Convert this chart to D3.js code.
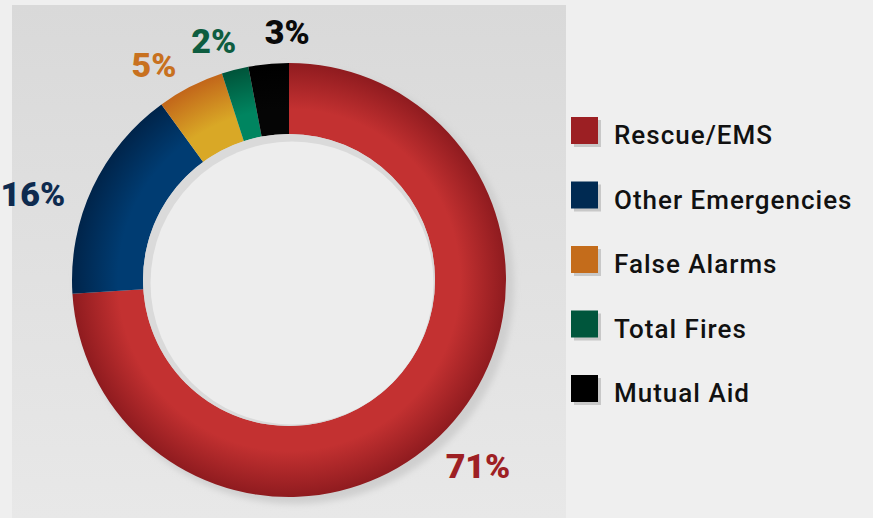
<html>
<script src="https://cdn.jsdelivr.net/npm/d3@7"></script>
<style>
  body { margin: 0; background: #efefef; }
  svg { display: block; }
</style>
<body>
<script>
    var width = 873
    var height = 518

    var categories = ['Rescue/EMS', 'Other Emergencies', 'False Alarms', 'Total Fires', 'Mutual Aid']
    var values = [74, 16, 5, 2, 3]
    var percentLabels = ['71%', '16%', '5%', '2%', '3%']

    // styling
    var swatchColors = ['#9c1f23', '#002a52', '#c46c1b', '#00563c', '#000000']
    var outerColors = ['#8f1b1f', '#00244a', '#c2661a', '#00543a', '#000000']
    var innerColors = ['#c33131', '#003c72', '#d9a826', '#008560', '#050505']
    var labelColors = ['#9e2024', '#0e2b4f', '#c8711f', '#0e5d40', '#0a0a0a']
    var labelNudge = [[-2, 6], [-19, 25], [-16, 18], [-10, 15], [23, 13]]

    var cx = 289, cy = 280
    var outerR = 217, innerR = 146

    var svg = d3.select('body').append('svg').attr('width', width).attr('height', height)
    var defs = svg.append('defs')

    var bgGrad = defs.append('linearGradient').attr('id', 'panel').attr('x1', 0).attr('y1', 0).attr('x2', 0).attr('y2', 1)
    bgGrad.append('stop').attr('offset', '0%').attr('stop-color', '#d9d9d9')
    bgGrad.append('stop').attr('offset', '100%').attr('stop-color', '#e8e8e8')

    defs.append('filter').attr('id', 'blur').append('feGaussianBlur').attr('stdDeviation', 3)

    svg.append('rect').attr('width', width).attr('height', height).attr('fill', '#efefef')
    svg.append('rect').attr('x', 12).attr('y', 5).attr('width', 554).attr('height', height - 5).attr('fill', 'url(#panel)')

    var g = svg.append('g').attr('transform', `translate(${cx}, ${cy})`)

    // drop shadow behind ring
    g.append('circle').attr('cx', 6).attr('cy', 5).attr('r', outerR + 2)
        .attr('fill', '#cfcfcf').attr('filter', 'url(#blur)')

    categories.forEach(function(c, i) {
        var rg = defs.append('radialGradient').attr('id', 'grad' + i)
            .attr('gradientUnits', 'userSpaceOnUse').attr('cx', 0).attr('cy', 0).attr('r', outerR)
        rg.append('stop').attr('offset', innerR / outerR).attr('stop-color', innerColors[i])
        rg.append('stop').attr('offset', (innerR + 25) / outerR).attr('stop-color', innerColors[i])
        rg.append('stop').attr('offset', '100%').attr('stop-color', outerColors[i])
    })

    var pie = d3.pie().sort(null).value(function(d) { return d })
    var arcs = pie(values)
    var arc = d3.arc().innerRadius(innerR).outerRadius(outerR)

    g.selectAll('path.slice').data(arcs).enter().append('path')
        .attr('class', 'slice')
        .attr('d', arc)
        .attr('fill', function(d, i) { return 'url(#grad' + i + ')' })

    // hole with inner shadow
    g.append('circle').attr('r', innerR).attr('fill', '#dadada')
    g.append('circle').attr('cx', 3).attr('cy', 3).attr('r', innerR - 4.5).attr('fill', '#ededed')

    var labelArc = d3.arc().innerRadius(262).outerRadius(262)
    g.selectAll('text.pct').data(arcs).enter().append('text')
        .attr('class', 'pct')
        .attr('transform', function(d, i) {
            var p = labelArc.centroid(d)
            return `translate(${p[0] + labelNudge[i][0]}, ${p[1] + labelNudge[i][1]})`
        })
        .attr('text-anchor', 'middle')
        .attr('dy', '0.36em')
        .style('font-family', 'Roboto, sans-serif')
        .style('font-weight', 900)
        .style('font-size', '34px')
        .attr('fill', function(d, i) { return labelColors[i] })
        .text(function(d, i) { return percentLabels[i] })

    // legend
    var legendY = d3.scalePoint().domain(categories).range([117, 375])
    var legend = svg.append('g')
    var item = legend.selectAll('g').data(categories).enter().append('g')
        .attr('transform', function(d) { return `translate(571, ${legendY(d)})` })
    item.append('rect').attr('x', 3).attr('y', 3).attr('width', 27).attr('height', 27).attr('fill', '#c8c8c8')
    item.append('rect').attr('width', 27).attr('height', 27)
        .attr('fill', function(d, i) { return swatchColors[i] })
    item.append('text').attr('x', 43).attr('y', 27)
        .style('font-family', 'Roboto, sans-serif')
        .style('font-size', '26px')
        .style('font-weight', 500)
        .style('letter-spacing', '1px')
        .attr('fill', '#111')
        .text(function(d) { return d })
</script>
</body>
</html>
